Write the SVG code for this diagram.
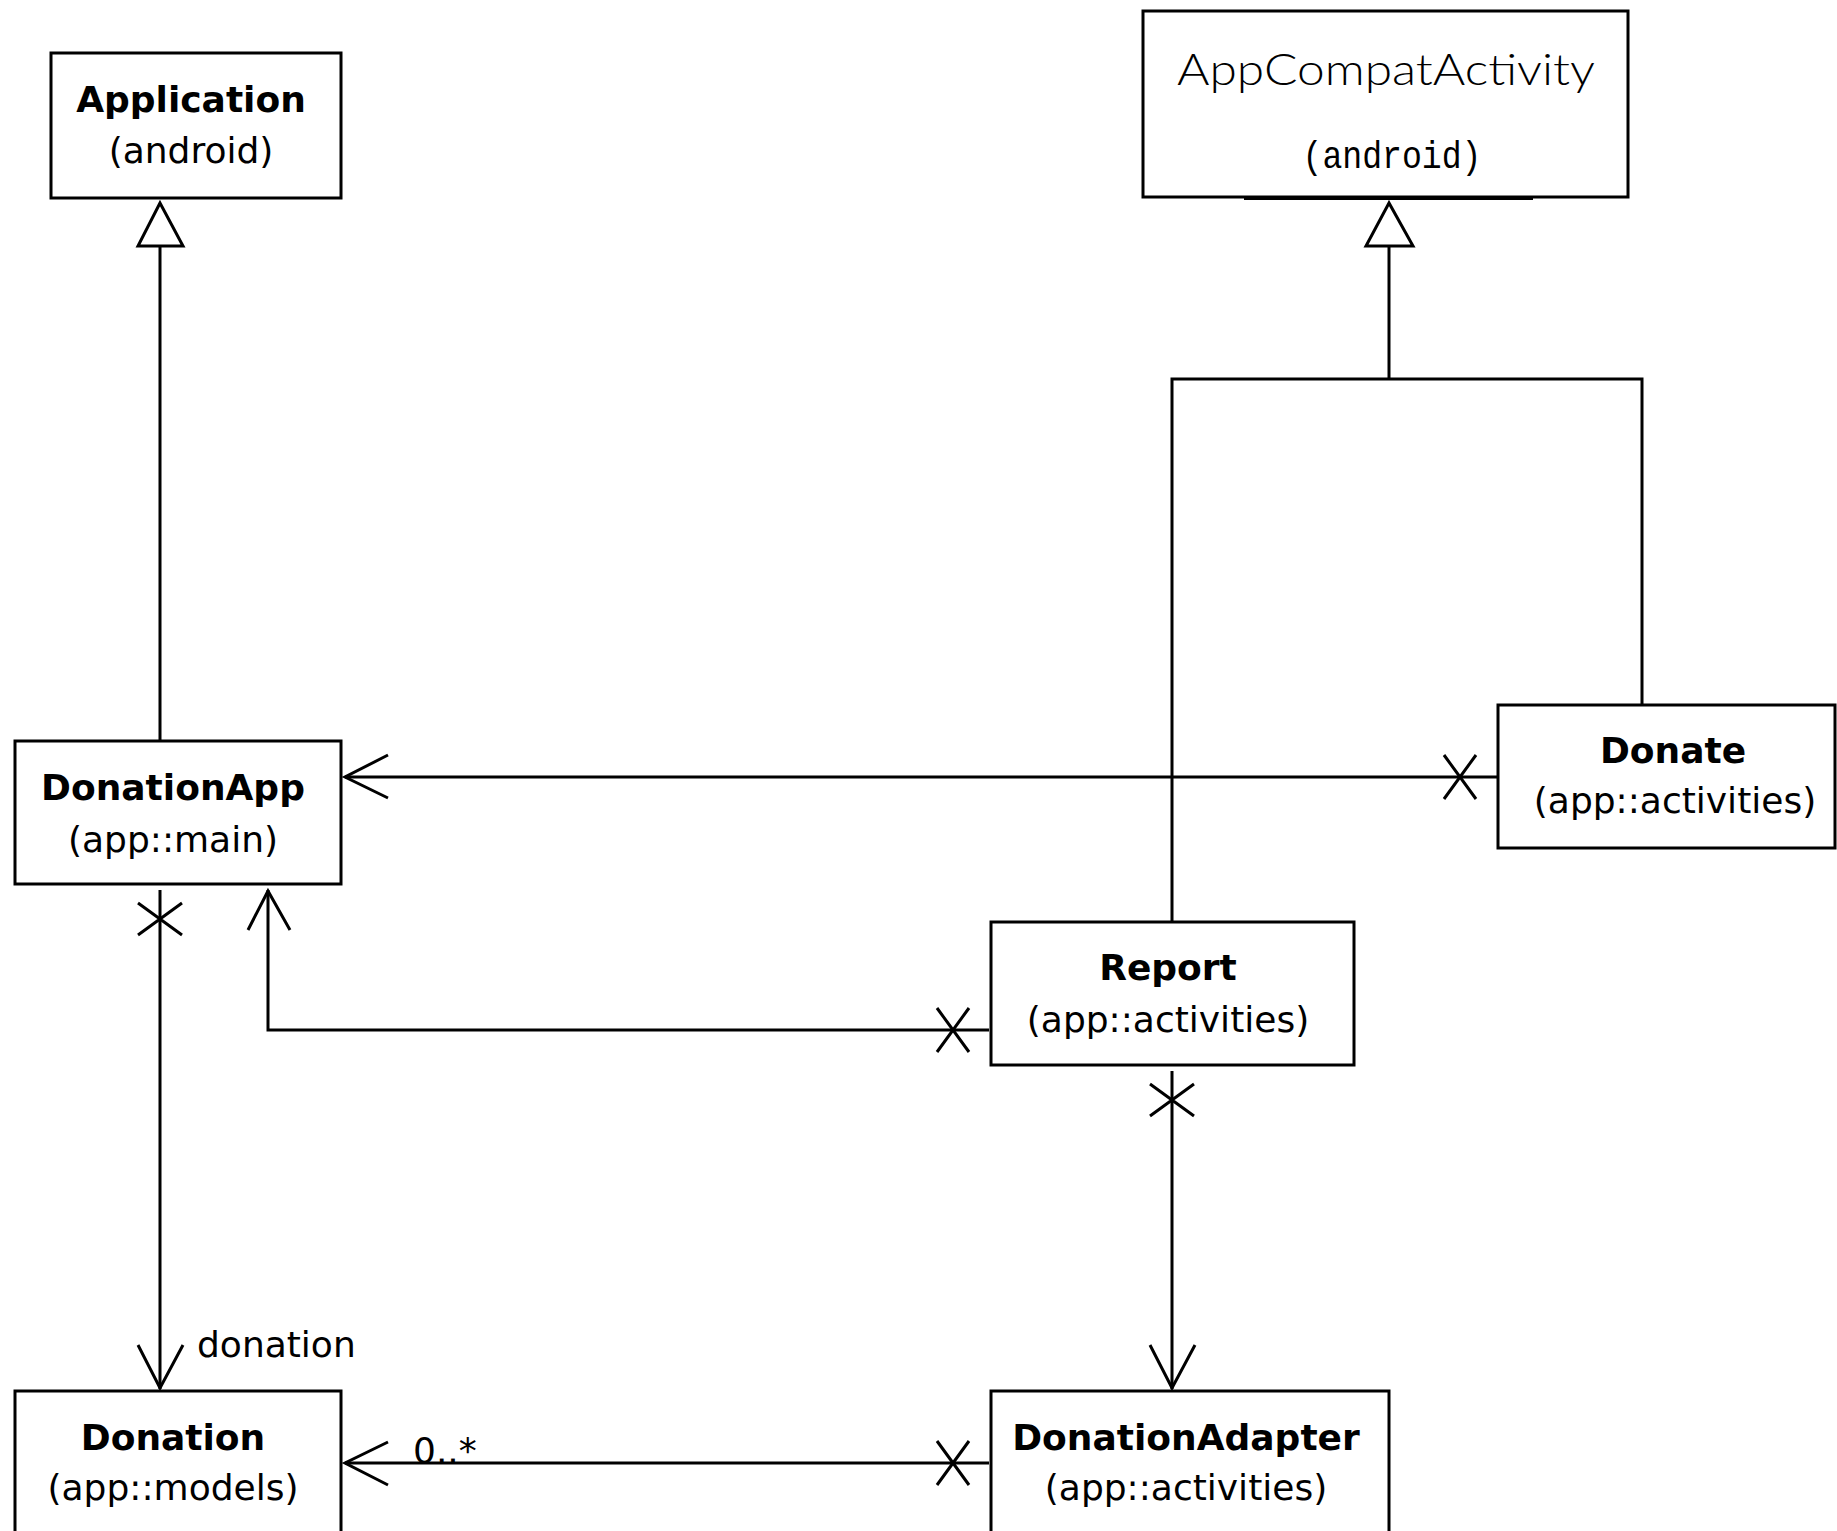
<svg xmlns="http://www.w3.org/2000/svg" width="1837" height="1531" viewBox="0 0 1837 1531">
<style>
.box{fill:#fff;stroke:#000;stroke-width:3}
.ln{fill:none;stroke:#000;stroke-width:3}
.b{font-family:"DejaVu Sans",sans-serif;font-weight:bold;font-size:36px;text-anchor:middle;fill:#000}
.r{font-family:"DejaVu Sans",sans-serif;font-size:36px;text-anchor:middle;fill:#000}
.lbl{font-family:"DejaVu Sans",sans-serif;font-size:36px;fill:#000}
</style>
<defs>
<path id="xv" d="M-22,-16 L22,16 M-22,16 L22,-16" class="ln"/>
<path id="xh" d="M-16,-22 L16,22 M-16,22 L16,-22" class="ln"/>
</defs>
<g id="connectors">
<!-- DonationApp -> Application generalization -->
<path class="ln" d="M160,741 V246"/>
<path class="ln" d="M160,203 L138,246 H183 Z" fill="#fff"/>
<!-- Report/Donate -> AppCompatActivity generalization -->
<path class="ln" d="M1172,922 V379 H1642 V705"/>
<path class="ln" d="M1389,379 V246"/>
<path class="ln" d="M1389,203 L1366,246 H1413 Z" fill="#fff"/>
<!-- Donate -> DonationApp -->
<path class="ln" d="M1497,777 H345"/>
<path class="ln" d="M388,755 L345,777 L388,798"/>
<use href="#xh" x="1460" y="777"/>
<!-- Report -> DonationApp -->
<path class="ln" d="M989,1030 H268 V890"/>
<path class="ln" d="M248,930 L268,891 L290,930"/>
<use href="#xh" x="953" y="1030"/>
<!-- DonationApp -> Donation -->
<path class="ln" d="M160,890 V1389"/>
<path class="ln" d="M138,1345 L160,1388 L183,1345"/>
<use href="#xv" x="160" y="919"/>
<text class="lbl" x="197" y="1357">donation</text>
<!-- Report -> DonationAdapter -->
<path class="ln" d="M1172,1071 V1389"/>
<path class="ln" d="M1150,1345 L1172,1388 L1195,1345"/>
<use href="#xv" x="1172" y="1100"/>
<!-- DonationAdapter -> Donation -->
<path class="ln" d="M989,1463 H345"/>
<path class="ln" d="M388,1442 L345,1463 L388,1485"/>
<use href="#xh" x="953" y="1463"/>
<text class="lbl" x="413" y="1463" font-size="35">0..*</text>
</g>
<g id="Application">
<rect class="box" x="51" y="53" width="290" height="145"/>
<text class="b" x="191" y="112">Application</text>
<text class="r" x="191" y="163">(android)</text>
</g>
<g id="AppCompatActivity">
<rect class="box" x="1143" y="11" width="485" height="186"/>
<path d="M1244,198.5 H1533" stroke="#000" stroke-width="3"/>
<text x="1386" y="85" font-family="Lato, 'Open Sans', 'Liberation Sans', sans-serif" font-weight="300" font-size="43" text-anchor="middle" textLength="418" lengthAdjust="spacingAndGlyphs">AppCompatActivity</text>
<text x="1392" y="168" font-family="'Liberation Mono', monospace" font-size="38" text-anchor="middle" textLength="179" lengthAdjust="spacingAndGlyphs">(android)</text>
</g>
<g id="DonationApp">
<rect class="box" x="15" y="741" width="326" height="143"/>
<text class="b" x="173" y="800">DonationApp</text>
<text class="r" x="173" y="852">(app::main)</text>
</g>
<g id="Donate">
<rect class="box" x="1498" y="705" width="337" height="143"/>
<text class="b" x="1673" y="763">Donate</text>
<text class="r" x="1675" y="813">(app::activities)</text>
</g>
<g id="Report">
<rect class="box" x="991" y="922" width="363" height="143"/>
<text class="b" x="1168" y="980">Report</text>
<text class="r" x="1168" y="1032">(app::activities)</text>
</g>
<g id="Donation">
<rect class="box" x="15" y="1391" width="326" height="160"/>
<text class="b" x="173" y="1450">Donation</text>
<text class="r" x="173" y="1500">(app::models)</text>
</g>
<g id="DonationAdapter">
<rect class="box" x="991" y="1391" width="398" height="160"/>
<text class="b" x="1186" y="1450">DonationAdapter</text>
<text class="r" x="1186" y="1500">(app::activities)</text>
</g>
</svg>
